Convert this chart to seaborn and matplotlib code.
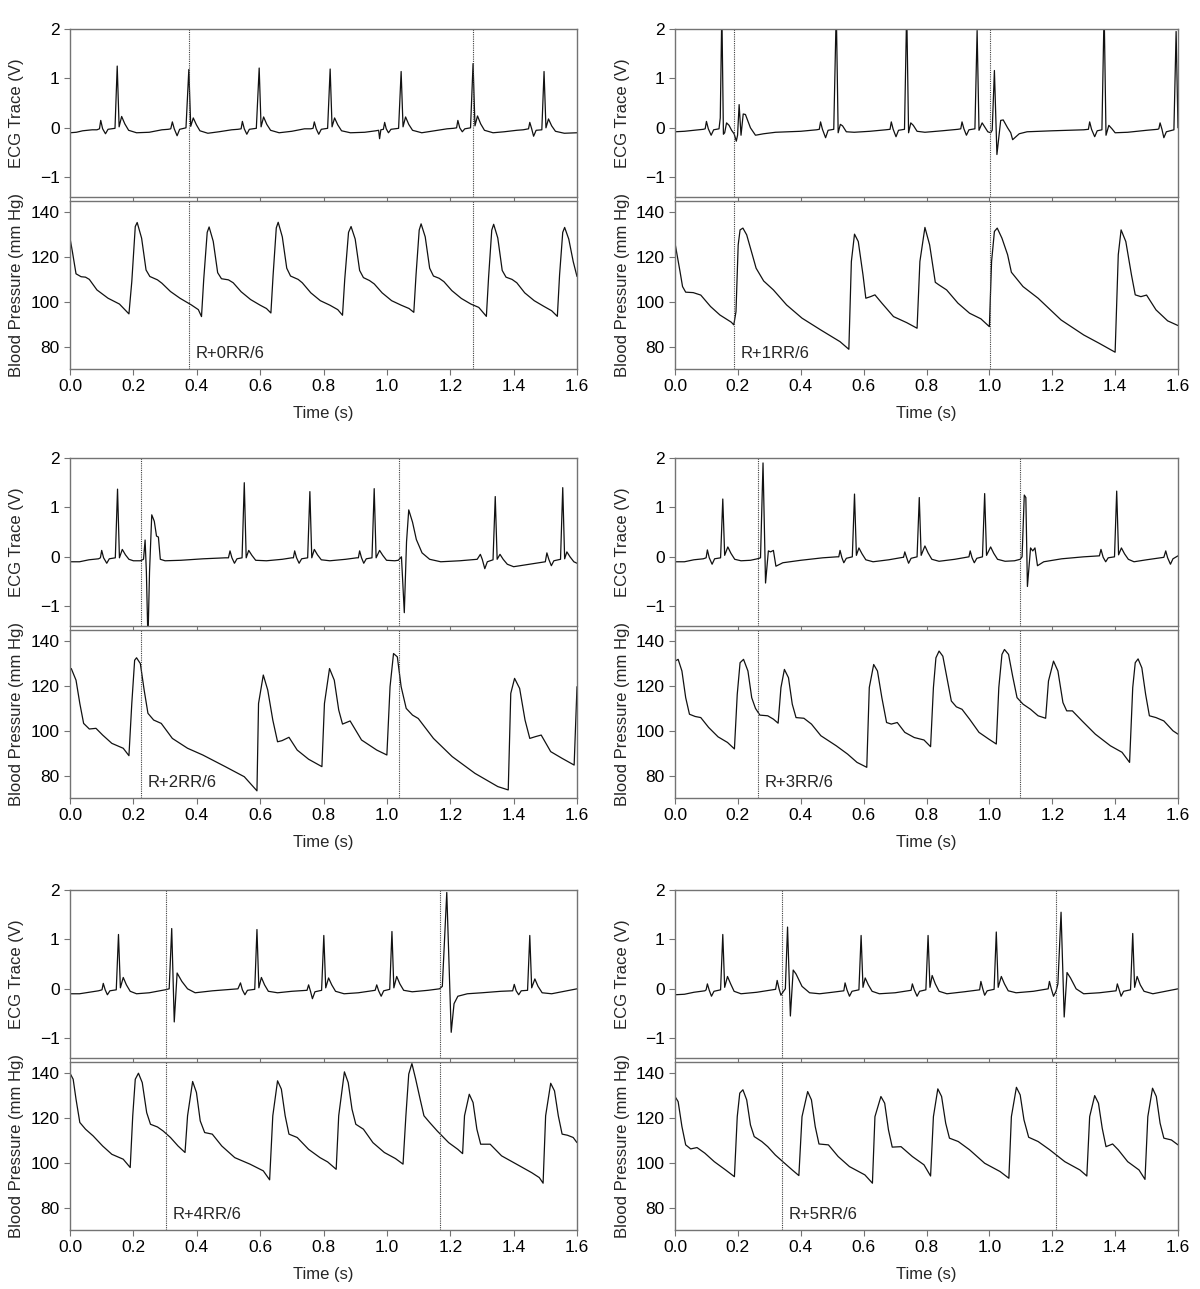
import numpy as np
import pandas as pd
import matplotlib
matplotlib.use("Agg")
import matplotlib.pyplot as plt
import seaborn as sns

# values (time in s, ECG in V, BP in mm Hg)

# ---- panel A : R+0RR/6 ----
ecg_a = [(0.0, -0.10), (0.02, -0.09), (0.04, -0.06), (0.07, -0.04), (0.085, -0.04),
         (0.093, -0.02), (0.097, 0.15), (0.103, -0.02), (0.112, -0.12), (0.12, -0.03), (0.142, -0.01),
         (0.149, 1.25), (0.155, 0.02), (0.163, 0.23), (0.173, 0.08), (0.185, -0.05), (0.21, -0.10),
         (0.25, -0.09), (0.29, -0.04), (0.31, -0.03),
         (0.318, -0.02), (0.323, 0.12), (0.329, -0.02), (0.338, -0.16), (0.346, -0.03), (0.366, 0.0),
         (0.375, 1.18), (0.381, 0.03), (0.389, 0.20), (0.399, 0.06), (0.41, -0.06), (0.435, -0.11),
         (0.47, -0.08), (0.51, -0.04), (0.53, -0.03),
         (0.54, -0.02), (0.544, 0.13), (0.55, -0.02), (0.558, -0.13), (0.566, -0.03), (0.588, -0.01),
         (0.597, 1.21), (0.603, 0.02), (0.611, 0.22), (0.621, 0.07), (0.633, -0.05), (0.66, -0.10),
         (0.70, -0.07), (0.74, -0.02), (0.76, -0.02),
         (0.767, -0.01), (0.771, 0.12), (0.777, -0.02), (0.785, -0.13), (0.793, -0.03), (0.813, -0.01),
         (0.821, 1.19), (0.827, 0.02), (0.835, 0.20), (0.845, 0.06), (0.857, -0.06), (0.885, -0.10),
         (0.93, -0.09), (0.965, -0.06), (0.974, -0.05), (0.977, -0.22), (0.981, -0.04),
         (0.989, -0.03), (0.993, 0.11), (0.998, -0.02), (1.005, -0.10), (1.013, -0.03), (1.037, -0.01),
         (1.045, 1.14), (1.051, 0.02), (1.059, 0.22), (1.069, 0.07), (1.081, -0.05), (1.11, -0.10),
         (1.15, -0.06), (1.19, -0.02), (1.21, -0.01),
         (1.22, 0.0), (1.224, 0.15), (1.23, 0.0), (1.238, -0.08), (1.246, -0.02), (1.264, 0.0),
         (1.272, 1.30), (1.278, 0.04), (1.286, 0.24), (1.296, 0.08), (1.308, -0.05), (1.335, -0.10),
         (1.37, -0.08), (1.41, -0.05), (1.43, -0.04),
         (1.447, -0.02), (1.451, 0.11), (1.457, -0.02), (1.463, -0.17), (1.471, -0.05), (1.489, -0.04),
         (1.496, 1.14), (1.502, 0.0), (1.51, 0.18), (1.52, 0.04), (1.532, -0.07), (1.56, -0.11), (1.6, -0.10)]
bp_a = [(0.0, 128.4), (0.008, 122.0), (0.019, 112.5), (0.035, 111.2), (0.049, 111.0), (0.061, 110.0),
        (0.085, 105.3), (0.12, 101.6), (0.156, 99.0), (0.186, 94.6), (0.195, 109.0), (0.206, 133.6),
        (0.212, 135.4), (0.226, 128.4), (0.24, 114.2), (0.252, 111.3), (0.276, 109.8), (0.29, 108.3),
        (0.317, 104.6), (0.347, 101.6), (0.383, 98.6), (0.405, 96.5), (0.415, 93.4),
        (0.422, 110.0), (0.433, 131.0), (0.439, 133.4), (0.452, 127.0), (0.466, 113.0), (0.478, 110.3),
        (0.50, 109.8), (0.515, 108.5), (0.54, 104.5), (0.57, 101.0), (0.60, 98.5), (0.62, 97.0), (0.634, 95.0),
        (0.641, 112.0), (0.651, 133.0), (0.657, 135.5), (0.67, 129.0), (0.684, 115.0), (0.696, 111.5),
        (0.72, 110.0), (0.733, 108.5), (0.76, 104.0), (0.79, 100.5), (0.82, 98.5), (0.845, 96.5), (0.86, 94.0),
        (0.867, 110.0), (0.879, 131.0), (0.887, 133.6), (0.90, 128.0), (0.914, 114.0), (0.926, 110.8),
        (0.945, 109.5), (0.96, 108.0), (0.985, 104.0), (1.015, 100.5), (1.045, 98.5), (1.07, 97.0), (1.085, 95.3),
        (1.092, 112.0), (1.102, 132.0), (1.108, 134.8), (1.121, 129.0), (1.135, 115.0), (1.147, 111.5),
        (1.165, 110.5), (1.18, 109.0), (1.205, 105.0), (1.235, 101.5), (1.265, 99.0), (1.29, 97.5), (1.314, 93.5),
        (1.321, 111.0), (1.331, 132.0), (1.337, 134.6), (1.35, 128.5), (1.364, 114.0), (1.376, 111.0),
        (1.395, 110.0), (1.41, 108.5), (1.435, 104.0), (1.465, 100.5), (1.495, 98.0), (1.52, 96.0), (1.538, 93.5),
        (1.545, 112.0), (1.555, 131.0), (1.561, 133.2), (1.574, 128.0), (1.588, 118.0), (1.6, 111.3)]

# ---- panel B : R+1RR/6 ----
ecg_b = [(0.0, -0.08), (0.03, -0.07), (0.06, -0.05), (0.09, -0.03),
         (0.096, -0.02), (0.10, 0.13), (0.106, -0.02), (0.115, -0.15), (0.123, -0.04), (0.14, -0.02),
         (0.144, 0.20), (0.149, 2.40), (0.154, -0.13), (0.158, -0.10), (0.164, 0.10), (0.172, 0.05),
         (0.18, -0.05), (0.188, -0.12), (0.195, -0.27), (0.199, -0.15), (0.204, 0.47), (0.21, -0.15),
         (0.217, 0.28), (0.224, 0.27), (0.24, 0.0), (0.256, -0.15), (0.282, -0.12), (0.32, -0.09),
         (0.40, -0.07), (0.45, -0.04),
         (0.459, -0.03), (0.463, 0.12), (0.469, -0.03), (0.479, -0.20), (0.487, -0.05), (0.505, -0.03),
         (0.513, 2.40), (0.519, -0.10), (0.526, 0.07), (0.533, 0.04), (0.545, -0.08), (0.57, -0.09),
         (0.62, -0.07), (0.67, -0.04),
         (0.684, -0.03), (0.688, 0.12), (0.694, -0.03), (0.703, -0.18), (0.711, -0.05), (0.73, -0.03),
         (0.737, 2.40), (0.743, -0.10), (0.75, 0.10), (0.758, 0.05), (0.77, -0.07), (0.795, -0.09),
         (0.85, -0.06), (0.90, -0.03),
         (0.909, -0.02), (0.913, 0.12), (0.919, -0.02), (0.927, -0.15), (0.935, -0.04), (0.954, -0.02),
         (0.961, 1.97), (0.967, -0.05), (0.977, 0.10), (0.985, 0.02), (0.995, -0.08), (1.004, -0.10),
         (1.009, -0.05), (1.016, 1.16), (1.024, -0.54), (1.036, 0.15), (1.044, 0.16), (1.058, 0.0),
         (1.068, -0.10), (1.074, -0.24), (1.095, -0.12), (1.12, -0.08), (1.20, -0.06), (1.30, -0.04),
         (1.315, -0.03), (1.319, 0.12), (1.325, -0.03), (1.335, -0.18), (1.343, -0.06), (1.358, -0.04),
         (1.365, 2.40), (1.371, -0.15), (1.38, 0.05), (1.39, -0.02), (1.40, -0.10), (1.44, -0.09),
         (1.50, -0.05), (1.535, -0.03),
         (1.539, -0.02), (1.543, 0.10), (1.549, -0.03), (1.555, -0.20), (1.563, -0.08), (1.587, -0.04),
         (1.594, 1.95), (1.6, 0.0)]
bp_b = [(0.0, 126.2), (0.016, 113.5), (0.024, 106.8), (0.034, 104.3), (0.058, 104.1), (0.082, 103.0),
        (0.113, 97.9), (0.143, 94.1), (0.179, 90.9), (0.187, 89.7), (0.194, 95.6), (0.201, 125.4),
        (0.207, 132.1), (0.216, 132.9), (0.228, 129.9), (0.246, 121.0), (0.258, 115.0), (0.282, 109.3),
        (0.313, 105.3), (0.355, 98.6), (0.404, 92.7), (0.464, 87.4), (0.525, 82.2), (0.553, 78.8),
        (0.561, 118.0), (0.571, 130.2), (0.583, 126.9), (0.598, 112.0), (0.607, 101.6), (0.622, 102.3),
        (0.636, 103.1), (0.658, 99.4), (0.695, 93.4), (0.737, 90.7), (0.77, 88.2),
        (0.779, 118.0), (0.795, 133.2), (0.81, 125.4), (0.828, 108.7), (0.84, 107.5), (0.864, 105.3),
        (0.90, 99.4), (0.937, 94.9), (0.973, 92.4), (1.0, 88.9),
        (1.007, 118.0), (1.016, 131.4), (1.025, 132.9), (1.04, 128.4), (1.058, 121.0), (1.07, 113.2),
        (1.107, 106.8), (1.155, 101.6), (1.228, 91.9), (1.30, 85.2), (1.349, 81.5), (1.40, 77.5),
        (1.41, 121.0), (1.419, 132.1), (1.434, 126.9), (1.452, 112.0), (1.464, 103.1), (1.482, 102.3),
        (1.50, 103.0), (1.53, 96.4), (1.567, 91.5), (1.6, 89.4)]

# ---- panel C : R+2RR/6 ----
ecg_c = [(0.0, -0.10), (0.03, -0.10), (0.06, -0.06), (0.09, -0.04),
         (0.096, -0.02), (0.10, 0.13), (0.106, -0.02), (0.116, -0.13), (0.124, -0.04), (0.143, -0.02),
         (0.15, 1.37), (0.156, -0.02), (0.165, 0.15), (0.175, 0.04), (0.186, -0.05), (0.20, -0.08),
         (0.222, -0.08), (0.232, -0.05), (0.237, 0.34), (0.241, -0.30), (0.246, -1.70), (0.251, -0.30),
         (0.258, 0.85), (0.266, 0.72), (0.273, 0.42), (0.279, 0.40), (0.285, -0.05), (0.30, -0.08),
         (0.35, -0.07), (0.42, -0.04), (0.49, -0.02),
         (0.50, -0.02), (0.505, 0.12), (0.511, -0.02), (0.519, -0.13), (0.527, -0.04), (0.543, -0.02),
         (0.55, 1.50), (0.556, -0.02), (0.564, 0.13), (0.574, 0.03), (0.586, -0.07), (0.62, -0.08),
         (0.67, -0.05), (0.70, -0.02),
         (0.705, -0.02), (0.709, 0.12), (0.715, -0.02), (0.723, -0.13), (0.731, -0.04), (0.75, -0.02),
         (0.757, 1.32), (0.763, -0.02), (0.771, 0.15), (0.781, 0.04), (0.793, -0.06), (0.82, -0.08),
         (0.87, -0.05), (0.905, -0.02),
         (0.91, -0.02), (0.914, 0.12), (0.92, -0.02), (0.927, -0.13), (0.935, -0.04), (0.953, -0.02),
         (0.96, 1.38), (0.966, -0.02), (0.977, 0.13), (0.987, 0.03), (0.999, -0.07), (1.025, -0.08),
         (1.036, -0.07), (1.046, 0.0), (1.055, -1.13), (1.062, 0.30), (1.069, 0.95), (1.081, 0.70),
         (1.093, 0.35), (1.111, 0.08), (1.135, -0.05), (1.17, -0.10), (1.23, -0.08), (1.285, -0.05),
         (1.295, 0.05), (1.301, -0.05), (1.309, -0.24), (1.317, -0.10), (1.335, -0.06),
         (1.342, 1.22), (1.348, -0.05), (1.357, 0.05), (1.367, -0.05), (1.38, -0.15), (1.40, -0.20),
         (1.45, -0.15), (1.50, -0.10),
         (1.505, 0.08), (1.511, -0.05), (1.519, -0.18), (1.527, -0.08), (1.548, -0.05),
         (1.555, 1.40), (1.561, -0.04), (1.568, 0.10), (1.578, 0.0), (1.59, -0.10), (1.6, -0.13)]
bp_c = [(0.0, 127.1), (0.004, 127.8), (0.019, 122.6), (0.031, 112.2), (0.043, 103.3), (0.061, 100.8),
        (0.082, 101.1), (0.103, 98.1), (0.132, 94.4), (0.168, 92.2), (0.186, 88.9),
        (0.195, 112.2), (0.204, 131.5), (0.21, 132.6), (0.222, 130.0), (0.234, 118.2), (0.246, 107.8),
        (0.264, 104.8), (0.288, 103.3), (0.323, 96.6), (0.371, 92.2), (0.419, 89.2), (0.49, 84.0),
        (0.55, 79.5), (0.59, 73.2),
        (0.595, 112.2), (0.61, 124.9), (0.624, 118.2), (0.64, 104.8), (0.655, 95.1), (0.669, 95.6),
        (0.691, 97.1), (0.717, 91.4), (0.753, 87.3), (0.795, 84.0),
        (0.803, 112.2), (0.819, 127.8), (0.834, 122.6), (0.848, 109.3), (0.86, 103.0), (0.884, 104.4),
        (0.92, 95.9), (0.968, 91.4), (1.0, 89.2),
        (1.01, 119.7), (1.021, 134.5), (1.033, 133.0), (1.045, 119.7), (1.061, 110.0), (1.081, 107.0),
        (1.099, 105.5), (1.147, 96.6), (1.206, 88.5), (1.278, 81.0), (1.35, 75.1), (1.383, 73.6),
        (1.391, 116.7), (1.403, 123.4), (1.419, 118.9), (1.436, 104.8), (1.451, 96.6), (1.469, 97.4),
        (1.487, 98.1), (1.517, 90.7), (1.553, 87.7), (1.591, 84.7), (1.6, 119.7)]

# ---- panel D : R+3RR/6 ----
ecg_d = [(0.0, -0.10), (0.03, -0.10), (0.06, -0.06), (0.09, -0.04),
         (0.099, -0.02), (0.103, 0.14), (0.109, -0.02), (0.118, -0.15), (0.126, -0.04), (0.145, -0.02),
         (0.152, 1.17), (0.158, 0.03), (0.168, 0.20), (0.178, 0.07), (0.19, -0.05), (0.21, -0.08),
         (0.24, -0.07), (0.262, -0.04), (0.272, -0.02), (0.28, 1.90), (0.288, -0.53), (0.297, 0.12),
         (0.304, 0.10), (0.313, 0.13), (0.321, -0.19), (0.343, -0.12), (0.40, -0.07), (0.47, -0.02),
         (0.515, 0.0),
         (0.521, 0.0), (0.525, 0.13), (0.531, -0.02), (0.537, -0.12), (0.545, -0.03), (0.564, 0.0),
         (0.571, 1.27), (0.577, 0.03), (0.585, 0.18), (0.595, 0.06), (0.607, -0.06), (0.63, -0.10),
         (0.68, -0.06), (0.725, -0.01),
         (0.727, -0.01), (0.731, 0.10), (0.737, -0.02), (0.743, -0.13), (0.751, -0.03), (0.77, 0.0),
         (0.777, 1.20), (0.783, 0.03), (0.795, 0.22), (0.805, 0.08), (0.817, -0.05), (0.84, -0.09),
         (0.89, -0.05), (0.935, 0.0),
         (0.939, 0.12), (0.945, -0.02), (0.952, -0.12), (0.96, -0.03), (0.978, 0.0),
         (0.985, 1.28), (0.991, 0.03), (1.004, 0.20), (1.014, 0.07), (1.026, -0.05), (1.05, -0.09),
         (1.08, -0.08), (1.098, -0.05), (1.104, 0.0), (1.111, 1.25), (1.116, 1.20), (1.121, -0.60),
         (1.131, 0.18), (1.138, 0.12), (1.145, 0.18), (1.153, -0.18), (1.173, -0.10), (1.23, -0.04),
         (1.30, 0.0), (1.35, 0.02),
         (1.355, 0.15), (1.362, -0.01), (1.37, -0.10), (1.378, -0.02), (1.398, 0.0),
         (1.405, 1.33), (1.411, 0.04), (1.42, 0.18), (1.43, 0.06), (1.442, -0.05), (1.46, -0.10),
         (1.50, -0.06), (1.555, -0.01),
         (1.561, 0.12), (1.567, -0.02), (1.576, -0.15), (1.584, -0.04), (1.6, 0.02)]
bp_d = [(0.0, 131.1), (0.01, 131.9), (0.022, 126.7), (0.034, 114.8), (0.046, 107.4), (0.064, 106.4),
        (0.082, 105.9), (0.107, 101.5), (0.137, 97.3), (0.167, 94.8), (0.189, 91.9),
        (0.198, 116.3), (0.207, 130.4), (0.218, 131.9), (0.232, 126.7), (0.244, 114.8), (0.256, 110.0),
        (0.27, 107.0), (0.295, 106.7), (0.313, 105.2), (0.328, 103.4),
        (0.337, 119.3), (0.348, 127.4), (0.361, 123.7), (0.373, 111.9), (0.385, 105.9), (0.41, 105.6),
        (0.434, 103.0), (0.464, 97.8), (0.513, 93.3), (0.549, 89.6), (0.579, 85.9), (0.61, 83.7),
        (0.618, 119.3), (0.632, 129.6), (0.644, 126.7), (0.658, 114.8), (0.673, 103.7), (0.688, 103.0),
        (0.707, 103.7), (0.731, 99.3), (0.761, 97.0), (0.792, 95.9), (0.813, 92.9),
        (0.822, 119.3), (0.83, 132.6), (0.84, 135.6), (0.852, 133.3), (0.867, 122.2), (0.879, 113.3),
        (0.895, 110.7), (0.913, 109.6), (0.937, 105.2), (0.967, 99.3), (0.998, 96.3), (1.022, 94.1),
        (1.03, 119.3), (1.04, 134.1), (1.048, 136.3), (1.061, 134.1), (1.074, 124.4), (1.088, 114.8),
        (1.107, 111.9), (1.131, 109.6), (1.155, 106.7), (1.179, 105.6),
        (1.188, 122.2), (1.204, 131.1), (1.218, 126.7), (1.234, 112.6), (1.246, 108.9), (1.264, 108.9),
        (1.295, 104.4), (1.337, 98.5), (1.385, 93.3), (1.422, 90.4), (1.446, 85.9),
        (1.456, 119.3), (1.464, 130.4), (1.473, 132.1), (1.485, 128.1), (1.497, 116.3), (1.509, 106.7),
        (1.53, 105.9), (1.555, 104.4), (1.584, 100.0), (1.6, 98.5)]

# ---- panel E : R+4RR/6 ----
ecg_e = [(0.0, -0.10), (0.03, -0.10), (0.06, -0.07), (0.09, -0.04),
         (0.101, -0.02), (0.105, 0.11), (0.111, -0.02), (0.118, -0.12), (0.126, -0.04), (0.146, -0.02),
         (0.153, 1.10), (0.159, 0.02), (0.168, 0.23), (0.178, 0.08), (0.19, -0.05), (0.21, -0.10),
         (0.25, -0.08), (0.30, -0.02), (0.313, 0.0), (0.321, 1.22), (0.329, -0.67), (0.338, 0.32),
         (0.353, 0.15), (0.371, 0.0), (0.395, -0.08), (0.45, -0.04), (0.53, 0.0),
         (0.538, 0.12), (0.544, -0.02), (0.552, -0.12), (0.56, -0.03), (0.583, -0.01),
         (0.59, 1.20), (0.596, 0.02), (0.604, 0.23), (0.614, 0.08), (0.626, -0.05), (0.655, -0.08),
         (0.70, -0.05), (0.748, -0.03),
         (0.753, 0.08), (0.759, -0.05), (0.765, -0.20), (0.773, -0.06), (0.794, -0.03),
         (0.801, 1.08), (0.807, 0.02), (0.816, 0.22), (0.826, 0.08), (0.838, -0.05), (0.865, -0.10),
         (0.91, -0.08), (0.963, -0.03),
         (0.968, 0.08), (0.974, -0.04), (0.982, -0.15), (0.99, -0.04), (1.009, -0.01),
         (1.016, 1.16), (1.022, 0.02), (1.031, 0.25), (1.041, 0.10), (1.053, -0.03), (1.08, -0.06),
         (1.13, -0.03), (1.166, 0.0), (1.175, 0.05), (1.189, 1.95), (1.203, -0.88), (1.212, -0.30),
         (1.224, -0.15), (1.254, -0.10), (1.30, -0.08), (1.36, -0.05), (1.397, -0.04),
         (1.402, 0.09), (1.408, -0.04), (1.416, -0.12), (1.424, -0.04), (1.444, -0.03),
         (1.451, 1.08), (1.457, 0.02), (1.467, 0.20), (1.477, 0.05), (1.49, -0.08), (1.52, -0.10),
         (1.56, -0.05), (1.6, 0.0)]
bp_e = [(0.0, 140.0), (0.01, 137.3), (0.019, 128.4), (0.031, 118.0), (0.049, 115.0), (0.073, 112.0),
        (0.103, 107.5), (0.132, 103.8), (0.168, 101.6), (0.19, 97.9),
        (0.198, 121.0), (0.206, 137.3), (0.216, 140.0), (0.228, 135.8), (0.242, 122.4), (0.254, 117.2),
        (0.276, 116.0), (0.294, 114.2), (0.317, 111.3), (0.341, 107.5), (0.363, 104.6),
        (0.371, 121.0), (0.387, 136.3), (0.399, 131.4), (0.411, 118.7), (0.425, 113.5), (0.449, 112.8),
        (0.479, 107.5), (0.52, 102.3), (0.568, 99.4), (0.61, 96.4), (0.63, 92.4),
        (0.64, 121.0), (0.655, 136.6), (0.667, 132.9), (0.679, 121.0), (0.691, 112.8), (0.717, 111.3),
        (0.753, 106.0), (0.789, 102.3), (0.813, 100.4), (0.84, 97.1),
        (0.848, 121.0), (0.866, 140.6), (0.878, 135.8), (0.89, 123.9), (0.902, 117.2), (0.926, 115.0),
        (0.956, 109.0), (0.992, 104.6), (1.027, 101.9), (1.051, 99.4),
        (1.06, 121.0), (1.069, 139.6), (1.079, 144.3), (1.091, 137.3), (1.105, 128.4), (1.117, 121.0),
        (1.135, 118.0), (1.159, 114.2), (1.195, 109.0), (1.224, 106.0), (1.239, 104.1),
        (1.245, 121.0), (1.26, 130.6), (1.272, 126.9), (1.284, 115.0), (1.296, 108.3), (1.326, 108.3),
        (1.362, 103.1), (1.409, 99.4), (1.457, 95.6), (1.481, 93.4), (1.493, 90.9),
        (1.501, 121.0), (1.517, 135.5), (1.529, 132.1), (1.541, 121.0), (1.553, 112.8), (1.57, 112.3),
        (1.588, 111.3), (1.6, 109.0)]

# ---- panel F : R+5RR/6 ----
ecg_f = [(0.0, -0.12), (0.03, -0.11), (0.06, -0.07), (0.095, -0.04),
         (0.099, -0.02), (0.103, 0.10), (0.109, -0.03), (0.116, -0.15), (0.124, -0.05), (0.145, -0.02),
         (0.152, 1.10), (0.158, 0.03), (0.167, 0.25), (0.177, 0.10), (0.188, -0.05), (0.21, -0.10),
         (0.26, -0.07), (0.32, -0.01), (0.325, 0.17), (0.331, 0.0), (0.337, -0.13), (0.345, -0.05),
         (0.351, 0.0), (0.358, 1.25), (0.367, -0.55), (0.376, 0.38), (0.385, 0.30), (0.404, 0.05),
         (0.428, -0.08), (0.46, -0.10), (0.50, -0.07), (0.537, -0.04),
         (0.541, 0.12), (0.547, -0.02), (0.555, -0.15), (0.563, -0.05), (0.585, -0.02),
         (0.592, 1.08), (0.598, 0.03), (0.605, 0.22), (0.615, 0.08), (0.627, -0.05), (0.65, -0.10),
         (0.70, -0.08), (0.751, -0.03),
         (0.755, 0.10), (0.761, -0.02), (0.77, -0.15), (0.778, -0.05), (0.798, -0.02),
         (0.805, 1.08), (0.811, 0.03), (0.818, 0.27), (0.828, 0.10), (0.84, -0.05), (0.865, -0.10),
         (0.92, -0.06), (0.969, -0.02),
         (0.973, 0.15), (0.979, 0.0), (0.985, -0.13), (0.993, -0.04), (1.015, -0.01),
         (1.022, 1.15), (1.028, 0.03), (1.038, 0.25), (1.048, 0.10), (1.06, -0.04), (1.085, -0.08),
         (1.14, -0.05), (1.187, 0.0), (1.191, 0.15), (1.197, 0.0), (1.204, -0.15), (1.212, -0.05),
         (1.218, 0.10), (1.228, 1.55), (1.238, -0.57), (1.247, 0.33), (1.258, 0.22), (1.276, 0.0),
         (1.30, -0.10), (1.35, -0.08), (1.403, -0.04),
         (1.407, 0.10), (1.413, -0.02), (1.419, -0.15), (1.427, -0.05), (1.449, -0.02),
         (1.456, 1.12), (1.462, 0.03), (1.47, 0.25), (1.48, 0.08), (1.492, -0.05), (1.52, -0.10),
         (1.56, -0.05), (1.6, 0.0)]
bp_f = [(0.0, 129.6), (0.01, 127.3), (0.022, 116.2), (0.034, 108.0), (0.05, 106.2), (0.07, 106.8),
        (0.095, 104.3), (0.125, 100.5), (0.161, 96.8), (0.189, 93.8),
        (0.198, 120.6), (0.206, 131.1), (0.216, 132.6), (0.228, 128.1), (0.24, 116.9), (0.252, 111.7),
        (0.276, 109.5), (0.295, 107.2), (0.319, 103.5), (0.343, 100.5), (0.373, 96.8), (0.394, 94.3),
        (0.404, 120.6), (0.422, 131.8), (0.434, 128.1), (0.446, 116.2), (0.458, 108.4), (0.488, 108.0),
        (0.519, 102.8), (0.555, 98.3), (0.604, 94.6), (0.628, 90.9),
        (0.636, 120.6), (0.655, 129.6), (0.667, 126.6), (0.679, 114.7), (0.691, 107.0), (0.719, 107.2),
        (0.755, 102.8), (0.792, 99.1), (0.813, 94.1),
        (0.822, 120.6), (0.836, 133.0), (0.848, 129.6), (0.861, 117.7), (0.873, 111.0), (0.901, 109.5),
        (0.937, 105.8), (0.985, 99.8), (1.034, 96.1), (1.062, 93.1),
        (1.07, 120.6), (1.086, 133.7), (1.098, 130.3), (1.11, 119.2), (1.125, 111.4), (1.155, 109.5),
        (1.192, 105.8), (1.24, 100.5), (1.288, 96.8), (1.31, 94.1),
        (1.319, 120.6), (1.335, 130.0), (1.347, 126.6), (1.359, 115.4), (1.371, 107.2), (1.392, 108.4),
        (1.41, 105.8), (1.44, 100.5), (1.476, 96.8), (1.495, 92.6),
        (1.504, 120.6), (1.519, 133.3), (1.531, 129.6), (1.543, 117.7), (1.555, 111.0), (1.579, 110.2),
        (1.6, 108.0)]

# dotted marker times and labels
marks_a = [0.375, 1.272]
marks_b = [0.187, 1.001]
marks_c = [0.224, 1.038]
marks_d = [0.264, 1.098]
marks_e = [0.303, 1.168]
marks_f = [0.339, 1.212]
labels = ["R+0RR/6", "R+1RR/6", "R+2RR/6", "R+3RR/6", "R+4RR/6", "R+5RR/6"]

ecg_ticks = [-1, 0, 1, 2]
bp_ticks = [80, 100, 120, 140]
time_ticks = [0.0, 0.2, 0.4, 0.6, 0.8, 1.0, 1.2, 1.4, 1.6]

panels = [(ecg_a, bp_a, marks_a), (ecg_b, bp_b, marks_b),
          (ecg_c, bp_c, marks_c), (ecg_d, bp_d, marks_d),
          (ecg_e, bp_e, marks_e), (ecg_f, bp_f, marks_f)]

sns.set_style("ticks")
plt.rcParams["font.family"] = ["Liberation Sans", "DejaVu Sans"]
plt.rcParams["font.size"] = 12

W, H = 1200, 1289
fig = plt.figure(figsize=(W / 100, H / 100), dpi=100)

SPINE = "0.45"
TRACE = "#111111"
TICK_FS = 12.5
LABEL_FS = 12
col_x = [(70, 577), (675, 1178)]
row_top = [29, 458, 890]
AX_H = 168
GAP = 4


def style_axes(ax):
    for s in ax.spines.values():
        s.set_visible(True)
        s.set_color(SPINE)
        s.set_linewidth(1.0)
    ax.tick_params(colors="black", labelsize=TICK_FS, width=0.8, length=4, color=SPINE)
    ax.set_xlim(0, 1.6)


for i, (ecg, bp, marks) in enumerate(panels):
    r, c = divmod(i, 2)
    x0, x1 = col_x[c]
    top = row_top[r]
    ax_e = fig.add_axes([x0 / W, 1 - (top + AX_H) / H, (x1 - x0) / W, AX_H / H])
    btop = top + AX_H + GAP
    ax_b = fig.add_axes([x0 / W, 1 - (btop + AX_H) / H, (x1 - x0) / W, AX_H / H])

    de = pd.DataFrame(ecg, columns=["t", "v"])
    db = pd.DataFrame(bp, columns=["t", "v"])
    sns.lineplot(data=de, x="t", y="v", ax=ax_e, color=TRACE, lw=0.9,
                 estimator=None, sort=False)
    sns.lineplot(data=db, x="t", y="v", ax=ax_b, color=TRACE, lw=0.9,
                 estimator=None, sort=False)

    for m in marks:
        for ax in (ax_e, ax_b):
            ax.axvline(m, color="0.25", lw=0.8, ls=(0, (1, 1)))

    style_axes(ax_e)
    ax_e.set_ylim(-1.4, 2)
    ax_e.set_yticks(ecg_ticks)
    ax_e.set_xticks(time_ticks)
    ax_e.tick_params(axis="x", labelbottom=False, length=3)
    ax_e.set_xlabel("")
    ax_e.set_ylabel("ECG Trace (V)", fontsize=LABEL_FS)
    ax_e.yaxis.set_label_coords(-0.09, 0.5)

    style_axes(ax_b)
    ax_b.set_ylim(70, 145)
    ax_b.set_yticks(bp_ticks)
    ax_b.set_xticks(time_ticks)
    ax_b.set_xticklabels(["%.1f" % t for t in time_ticks])
    ax_b.set_xlabel("Time (s)", fontsize=LABEL_FS, labelpad=8)
    ax_b.set_ylabel("Blood Pressure (mm Hg)", fontsize=LABEL_FS)
    ax_b.yaxis.set_label_coords(-0.09, 0.5)

    ax_b.text(marks[0] + 0.022, 77, labels[i], fontsize=LABEL_FS, ha="left", va="center")

fig.savefig("out.png", dpi=100, facecolor="white")
